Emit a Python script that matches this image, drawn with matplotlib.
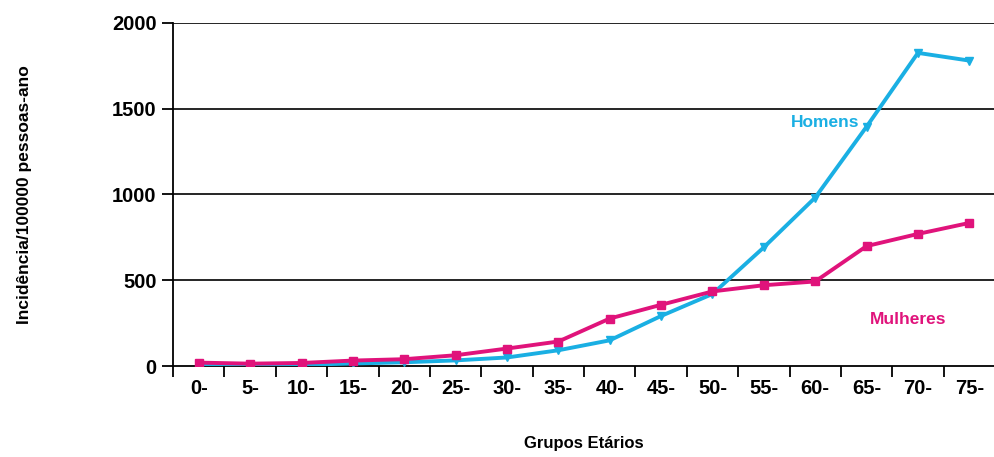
import matplotlib
matplotlib.use("Agg")
import matplotlib.pyplot as plt
from matplotlib import font_manager

# ---------- DATA ----------
grupos = ["0-", "5-", "10-", "15-", "20-", "25-", "30-", "35-",
          "40-", "45-", "50-", "55-", "60-", "65-", "70-", "75-"]
homens = [5, 5, 7, 15, 22, 33, 50, 92, 150, 292, 420, 692, 982, 1395, 1825, 1780]
mulheres = [20, 14, 18, 32, 40, 63, 102, 143, 277, 357, 435, 471, 493, 699, 770, 834]

COR_H = "#1AAFE3"
COR_M = "#E0137B"

names = {f.name for f in font_manager.fontManager.ttflist}
fam = "Liberation Sans Narrow" if "Liberation Sans Narrow" in names else "Liberation Sans"
plt.rcParams["font.family"] = [fam, "DejaVu Sans"]
plt.rcParams["font.weight"] = "bold"
plt.rcParams["axes.labelweight"] = "bold"

fig = plt.figure(figsize=(9.95, 4.57), dpi=100)
ax = fig.add_axes([0.174, 0.199, 0.826, 0.751])

x = list(range(len(grupos)))
ax.plot(x, homens, color=COR_H, lw=2.8, marker="v", ms=6, zorder=3)
ax.plot(x, mulheres, color=COR_M, lw=2.8, marker="s", ms=6, zorder=4)

ax.set_xlim(-0.5, len(grupos) - 0.5)
ax.set_ylim(0, 2000)
ax.set_yticks([0, 500, 1000, 1500, 2000])
ax.set_xticks(x)
ax.set_xticklabels(grupos)
ax.set_xticks([i - 0.5 for i in range(len(grupos) + 1)], minor=True)
ax.tick_params(axis="x", which="major", length=0, pad=9, labelsize=14.5)
ax.tick_params(axis="x", which="minor", length=8, width=1.3, direction="out")
ax.tick_params(axis="y", length=8, width=1.3, pad=4, labelsize=14.5)

for v in [500, 1000, 1500, 2000]:
    ax.axhline(v, color="black", lw=1.2, zorder=1)

for s in ["top", "right"]:
    ax.spines[s].set_visible(False)
ax.spines["left"].set_linewidth(1.3)
ax.spines["bottom"].set_linewidth(1.3)

ax.set_ylabel("Incidência/100000 pessoas-ano", fontsize=12.5, fontweight="bold")
ax.yaxis.set_label_coords(-0.172, 0.5)
ax.set_xlabel("Grupos Etários", fontsize=12, fontweight="bold")
ax.xaxis.set_label_coords(0.5, -0.205)

ax.text(12.2, 1395, "Homens", color=COR_H, fontsize=12.5, fontweight="bold", ha="center")
ax.text(13.8, 245, "Mulheres", color=COR_M, fontsize=12.5, fontweight="bold", ha="center")

fig.savefig("out.png", dpi=100)
